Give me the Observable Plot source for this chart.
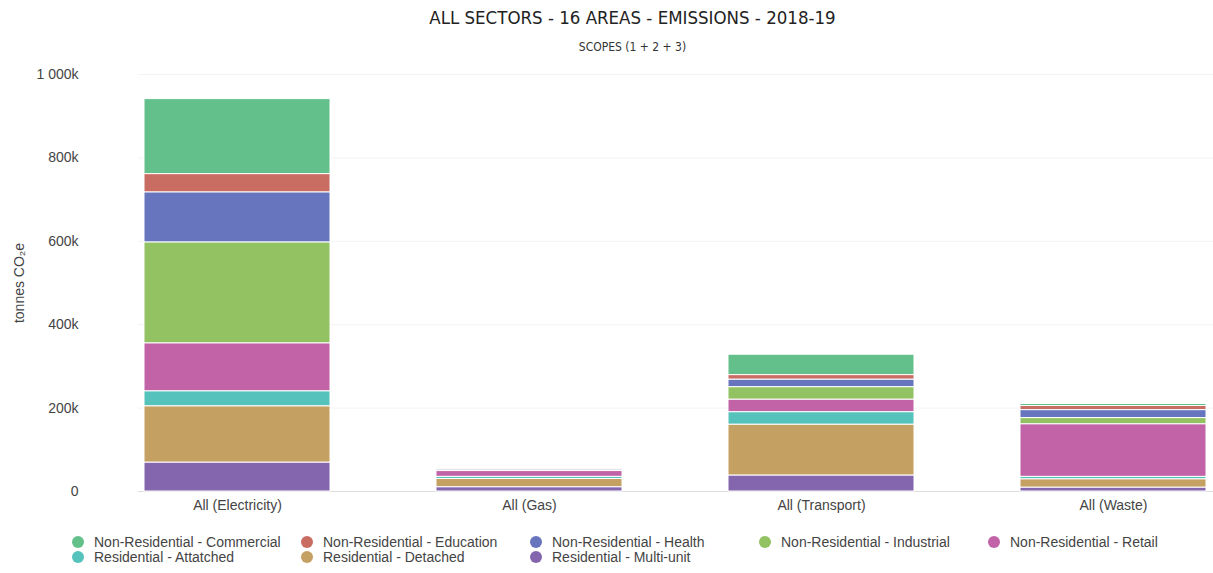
<!DOCTYPE html>
<html>
<head>
<meta charset="utf-8">
<script src="https://cdn.jsdelivr.net/npm/d3@7"></script>
<script src="https://cdn.jsdelivr.net/npm/@observablehq/plot@0.6"></script>
<style>
  body { margin: 0; background: #fff; font-family: "Liberation Sans", Arial, sans-serif; }
  #wrap { position: relative; width: 1213px; height: 573px; }
  #title { position: absolute; top: 6px; left: 52px; width: 1161px; text-align: center;
    font-family: "Liberation Sans Narrow", "DejaVu Sans Condensed", sans-serif; font-size: 18.5px; color: #222; line-height: 24px; }
  #subtitle { position: absolute; top: 39px; left: 52px; width: 1161px; text-align: center;
    font-family: "Liberation Sans Narrow", "DejaVu Sans Condensed", sans-serif; font-size: 12px; color: #333; line-height: 16px; }
  #chart { position: absolute; top: 60px; left: 0; }
  #legend { position: absolute; top: 534px; left: 72px; width: 1145px; display: flex; flex-wrap: wrap; }
  .item { width: 229px; height: 15px; display: flex; align-items: center; font-size: 14px; color: #444; white-space: nowrap; }
  .dot { width: 12px; height: 12px; border-radius: 50%; margin-right: 10px; flex: none; }
</style>
</head>
<body>
<div id="wrap">
  <div id="title"></div>
  <div id="subtitle"></div>
  <div id="chart"></div>
  <div id="legend"></div>
</div>
<script>
const titleText = "ALL SECTORS - 16 AREAS - EMISSIONS - 2018-19";
const subtitleText = "SCOPES (1 + 2 + 3)";
const yLabel = "tonnes CO₂e";

const areas = ["All (Electricity)", "All (Gas)", "All (Transport)", "All (Waste)"];

// legend order
const sectors = [
  "Non-Residential - Commercial",
  "Non-Residential - Education",
  "Non-Residential - Health",
  "Non-Residential - Industrial",
  "Non-Residential - Retail",
  "Residential - Attatched",
  "Residential - Detached",
  "Residential - Multi-unit"
];
const colors = ["#63c08a", "#c96d63", "#6675be", "#92c262", "#c263a7", "#55c2bb", "#c4a063", "#8466af"];

// values in thousand tonnes, per area, in sector (legend) order
const commercial = [180, 0.5, 49, 5];
const education  = [44, 0.5, 11, 10];
const health     = [120, 3, 18, 19];
const industrial = [242, 0.5, 30, 15];
const retail     = [115, 14, 30, 126];
const attached   = [36, 5, 30, 6];
const detached   = [135, 20, 122, 20];
const multiunit  = [69, 10, 38, 9];

const yTicks = [0, 200, 400, 600, 800, 1000];

const series = [commercial, education, health, industrial, retail, attached, detached, multiunit];
const data = [];
sectors.forEach((s, i) => areas.forEach((a, j) => data.push({area: a, sector: s, value: series[i][j]})));
const stackOrder = sectors.slice().reverse(); // bottom to top

document.getElementById("title").textContent = titleText;
document.getElementById("subtitle").textContent = subtitleText;

const fmt = d => d === 0 ? "0" : d3.format(",")(d).replace(",", " ") + "k";

const plot = Plot.plot({
  width: 1213,
  height: 461,
  marginTop: 14,
  marginBottom: 30,
  marginLeft: 138,
  marginRight: 0,
  style: { fontFamily: "Liberation Sans, Arial, sans-serif", fontSize: "14px", color: "#444" },
  x: { domain: areas, paddingInner: 0.362, paddingOuter: 0.0155, label: null },
  y: { domain: [0, 1000], label: null },
  color: { domain: sectors, range: colors },
  marks: [
    Plot.gridY(yTicks, { stroke: "#f3f3f3", strokeOpacity: 1 }),
    Plot.ruleY([0], { stroke: "#dddddd" }),
    Plot.barY(data, Plot.stackY({ order: stackOrder }, {
      x: "area", y: "value", fill: "sector", stroke: "white", strokeWidth: 1, fillOpacity: 1
    })),
    Plot.axisX({ tickSize: 0, tickPadding: 9, fontSize: 14, fill: "#444", label: null }),
    Plot.axisY({ ticks: yTicks, tickSize: 0, tickPadding: 60, tickFormat: fmt, fontSize: 14, fill: "#444",
      label: yLabel, labelAnchor: "center", labelArrow: "none", labelOffset: 124 })
  ]
});
document.getElementById("chart").appendChild(plot);

const legend = document.getElementById("legend");
sectors.forEach((s, i) => {
  const it = document.createElement("div");
  it.className = "item";
  const d = document.createElement("span");
  d.className = "dot";
  d.style.background = colors[i];
  const t = document.createElement("span");
  t.textContent = s;
  it.appendChild(d); it.appendChild(t);
  legend.appendChild(it);
});
</script>
</body>
</html>
